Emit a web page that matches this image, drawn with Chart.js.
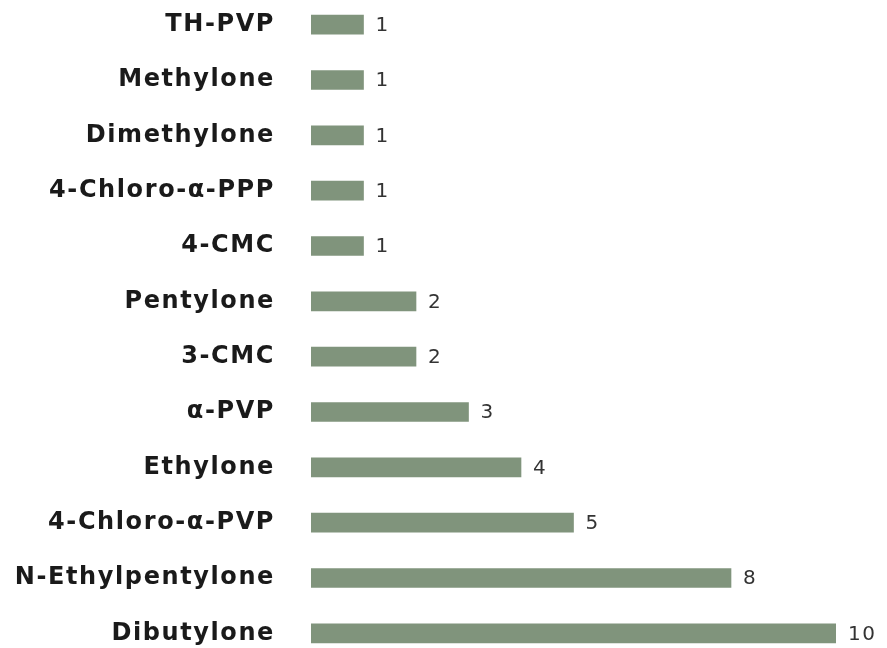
<!DOCTYPE html>
<html>
<head>
<meta charset="utf-8">
<script src="https://cdn.jsdelivr.net/npm/chart.js@4/dist/chart.umd.min.js"></script>
<style>
    html, body { margin: 0; padding: 0; background: #fff; overflow: hidden; }
    #grafico { position: absolute; left: 0; top: -3px; }
</style>
</head>
<body>
<canvas id="grafico" width="887" height="664"></canvas>
<script>
// Dados do gráfico
const categorias = ['TH-PVP', 'Methylone', 'Dimethylone', '4-Chloro-\u03b1-PPP', '4-CMC', 'Pentylone',
    '3-CMC', '\u03b1-PVP', 'Ethylone', '4-Chloro-\u03b1-PVP', 'N-Ethylpentylone', 'Dibutylone'];
const valores = [1, 1, 1, 1, 1, 2, 2, 3, 4, 5, 8, 10];
const eixoMax = 10;

// Espaçamento entre letras (o texto original é mais largo)
const espacamento = {
    id: 'espacamento',
    beforeDraw(chart) {
        chart.ctx.letterSpacing = '1.6px';
    }
};

// Escreve o valor no fim de cada barra
const rotulosValores = {
    id: 'rotulosValores',
    afterDatasetsDraw(chart) {
        const ctx = chart.ctx;
        const meta = chart.getDatasetMeta(0);
        ctx.save();
        ctx.font = '20px "DejaVu Sans"';
        ctx.fillStyle = '#333';
        ctx.textAlign = 'left';
        ctx.textBaseline = 'middle';
        meta.data.forEach(function(barra, i) {
            ctx.fillText(String(valores[i]), barra.x + 12, barra.y + 1);
        });
        ctx.restore();
    }
};

const ctx = document.getElementById('grafico').getContext('2d');
const grafico = new Chart(ctx, {
    type: 'bar',
    data: {
        labels: categorias,
        datasets: [{
            data: valores,
            backgroundColor: '#80947c',
            barThickness: 19
        }]
    },
    options: {
        indexAxis: 'y',
        responsive: false,
        animation: false,
        layout: { padding: { left: 0, right: 51, top: 0, bottom: 0 } },
        plugins: { legend: { display: false }, tooltip: { enabled: false } },
        scales: {
            x: { display: false, min: 0, max: eixoMax },
            y: {
                grid: { display: false, drawTicks: false },
                border: { display: false },
                ticks: {
                    padding: 36,
                    color: '#1a1a1a',
                    font: { family: '"DejaVu Sans"', size: 24, weight: 'bold' }
                },
                afterFit(scale) {
                    scale.width = 311;
                    scale.paddingTop = 0;
                    scale.paddingBottom = 0;
                }
            }
        }
    },
    plugins: [espacamento, rotulosValores]
});
</script>
</body>
</html>
